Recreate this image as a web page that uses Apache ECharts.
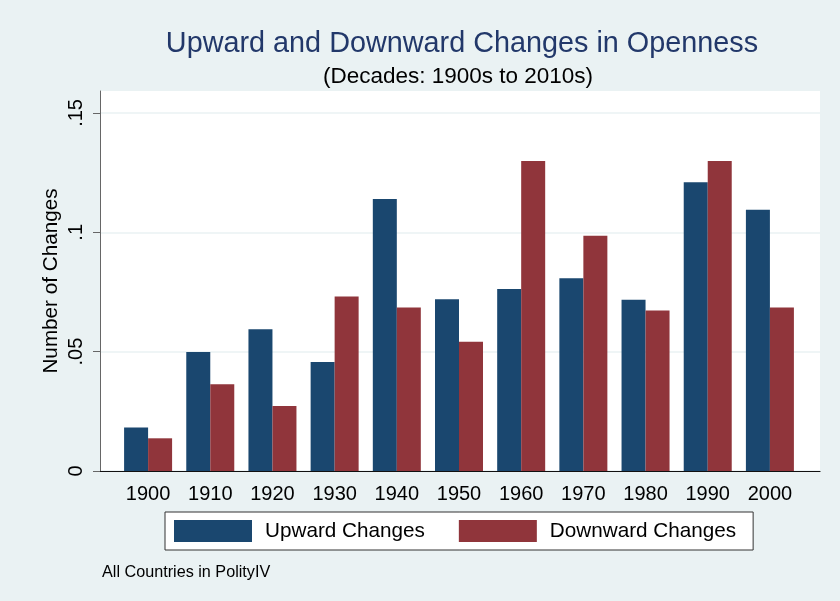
<!DOCTYPE html>
<html>
<head>
<meta charset="utf-8">
<script src="https://cdn.jsdelivr.net/npm/echarts@6/dist/echarts.min.js"></script>
<style>
  html, body { margin: 0; padding: 0; background: #eaf2f3; }
  #chart { width: 840px; height: 601px; }
</style>
</head>
<body>
<div id="chart"></div>
<script>
const bgColor = '#eaf2f3';
const upColor = '#1a476f';
const downColor = '#90353b';
const fontName = 'Liberation Sans';

// decades on the x axis
const categories = ['1900', '1910', '1920', '1930', '1940', '1950', '1960', '1970', '1980', '1990', '2000'];
// share of changes
const upward = [0.0182, 0.0499, 0.0594, 0.0457, 0.1140, 0.0720, 0.0763, 0.0808, 0.0717, 0.1210, 0.1094];
const downward = [0.0137, 0.0363, 0.0272, 0.0731, 0.0685, 0.0541, 0.1299, 0.0986, 0.0672, 0.1299, 0.0685];
const yTicks = [0, 0.05, 0.1, 0.15];
const yMax = 0.1592;

var chart = echarts.init(document.getElementById('chart'), null, { renderer: 'canvas' });

function stataNum(v) {
  if (v === 0) return '0';
  return String(+v.toFixed(4)).replace(/^0/, '');
}

var option = {
  backgroundColor: bgColor,
  animation: false,
  textStyle: { fontFamily: fontName },
  title: [
    {
      text: 'Upward and Downward Changes in Openness',
      left: 457, top: 25, textAlign: 'center',
      textStyle: { fontFamily: fontName, fontSize: 28.8, fontWeight: 'normal', color: '#22386a' }
    },
    {
      text: '(Decades: 1900s to 2010s)',
      left: 453, top: 60, textAlign: 'center',
      textStyle: { fontFamily: fontName, fontSize: 22.5, fontWeight: 'normal', color: '#000' }
    },
    {
      text: 'All Countries in PolityIV',
      left: 97, top: 560,
      textStyle: { fontFamily: fontName, fontSize: 16.2, fontWeight: 'normal', color: '#000' }
    }
  ],
  legend: {
    data: ['Upward Changes', 'Downward Changes'],
    left: 165, top: 512,
    orient: 'horizontal',
    icon: 'rect',
    itemWidth: 78, itemHeight: 22, itemGap: 34,
    padding: [8, 17, 8, 9],
    backgroundColor: '#fff',
    borderColor: '#333', borderWidth: 1,
    formatter: '{t|{name}}',
    textStyle: {
      fontFamily: fontName, fontSize: 20.7, color: '#000',
      rich: { t: { fontFamily: fontName, fontSize: 20.7, color: '#000', padding: [0, 0, 0, 8] } }
    }
  },
  grid: [
    // white plot region with the y axis
    { left: 100, right: 20, top: 91, bottom: 130, show: true, backgroundColor: '#fff', borderWidth: 0 },
    // bars sit slightly inset from the plot edges
    { left: 117, right: 39, top: 91, bottom: 130 }
  ],
  xAxis: [
    {
      gridIndex: 0, type: 'value', min: 0, max: 1,
      axisLine: { show: true, lineStyle: { color: '#111', width: 1.2 } },
      axisTick: { show: false }, axisLabel: { show: false }, splitLine: { show: false }
    },
    {
      gridIndex: 1, type: 'category', data: categories,
      axisLine: { show: false }, axisTick: { show: false },
      axisLabel: { margin: 13, fontFamily: fontName, fontSize: 20, color: '#000' }
    }
  ],
  yAxis: [
    {
      gridIndex: 0, type: 'value', min: 0, max: yMax,
      name: 'Number of Changes', nameLocation: 'middle', nameGap: 38,
      nameMoveOverlap: false,
      nameTextStyle: { fontFamily: fontName, fontSize: 20.7, color: '#000' },
      axisLine: { show: true, lineStyle: { color: '#666', width: 1 } },
      axisTick: { show: true, length: 7, customValues: yTicks, lineStyle: { color: '#666' } },
      axisLabel: {
        customValues: yTicks, rotate: 90, margin: 14,
        fontFamily: fontName, fontSize: 20, color: '#000',
        formatter: stataNum
      },
      splitLine: { show: true, lineStyle: { color: bgColor, width: 1.5 } }
    },
    {
      gridIndex: 1, type: 'value', min: 0, max: yMax, show: false
    }
  ],
  series: [
    {
      name: 'Upward Changes', type: 'bar',
      xAxisIndex: 1, yAxisIndex: 1,
      data: upward, barWidth: 24, barGap: '0%',
      itemStyle: { color: upColor }
    },
    {
      name: 'Downward Changes', type: 'bar',
      xAxisIndex: 1, yAxisIndex: 1,
      data: downward, barWidth: 24, barGap: '0%',
      itemStyle: { color: downColor }
    }
  ]
};
chart.setOption(option);
</script>
</body>
</html>
